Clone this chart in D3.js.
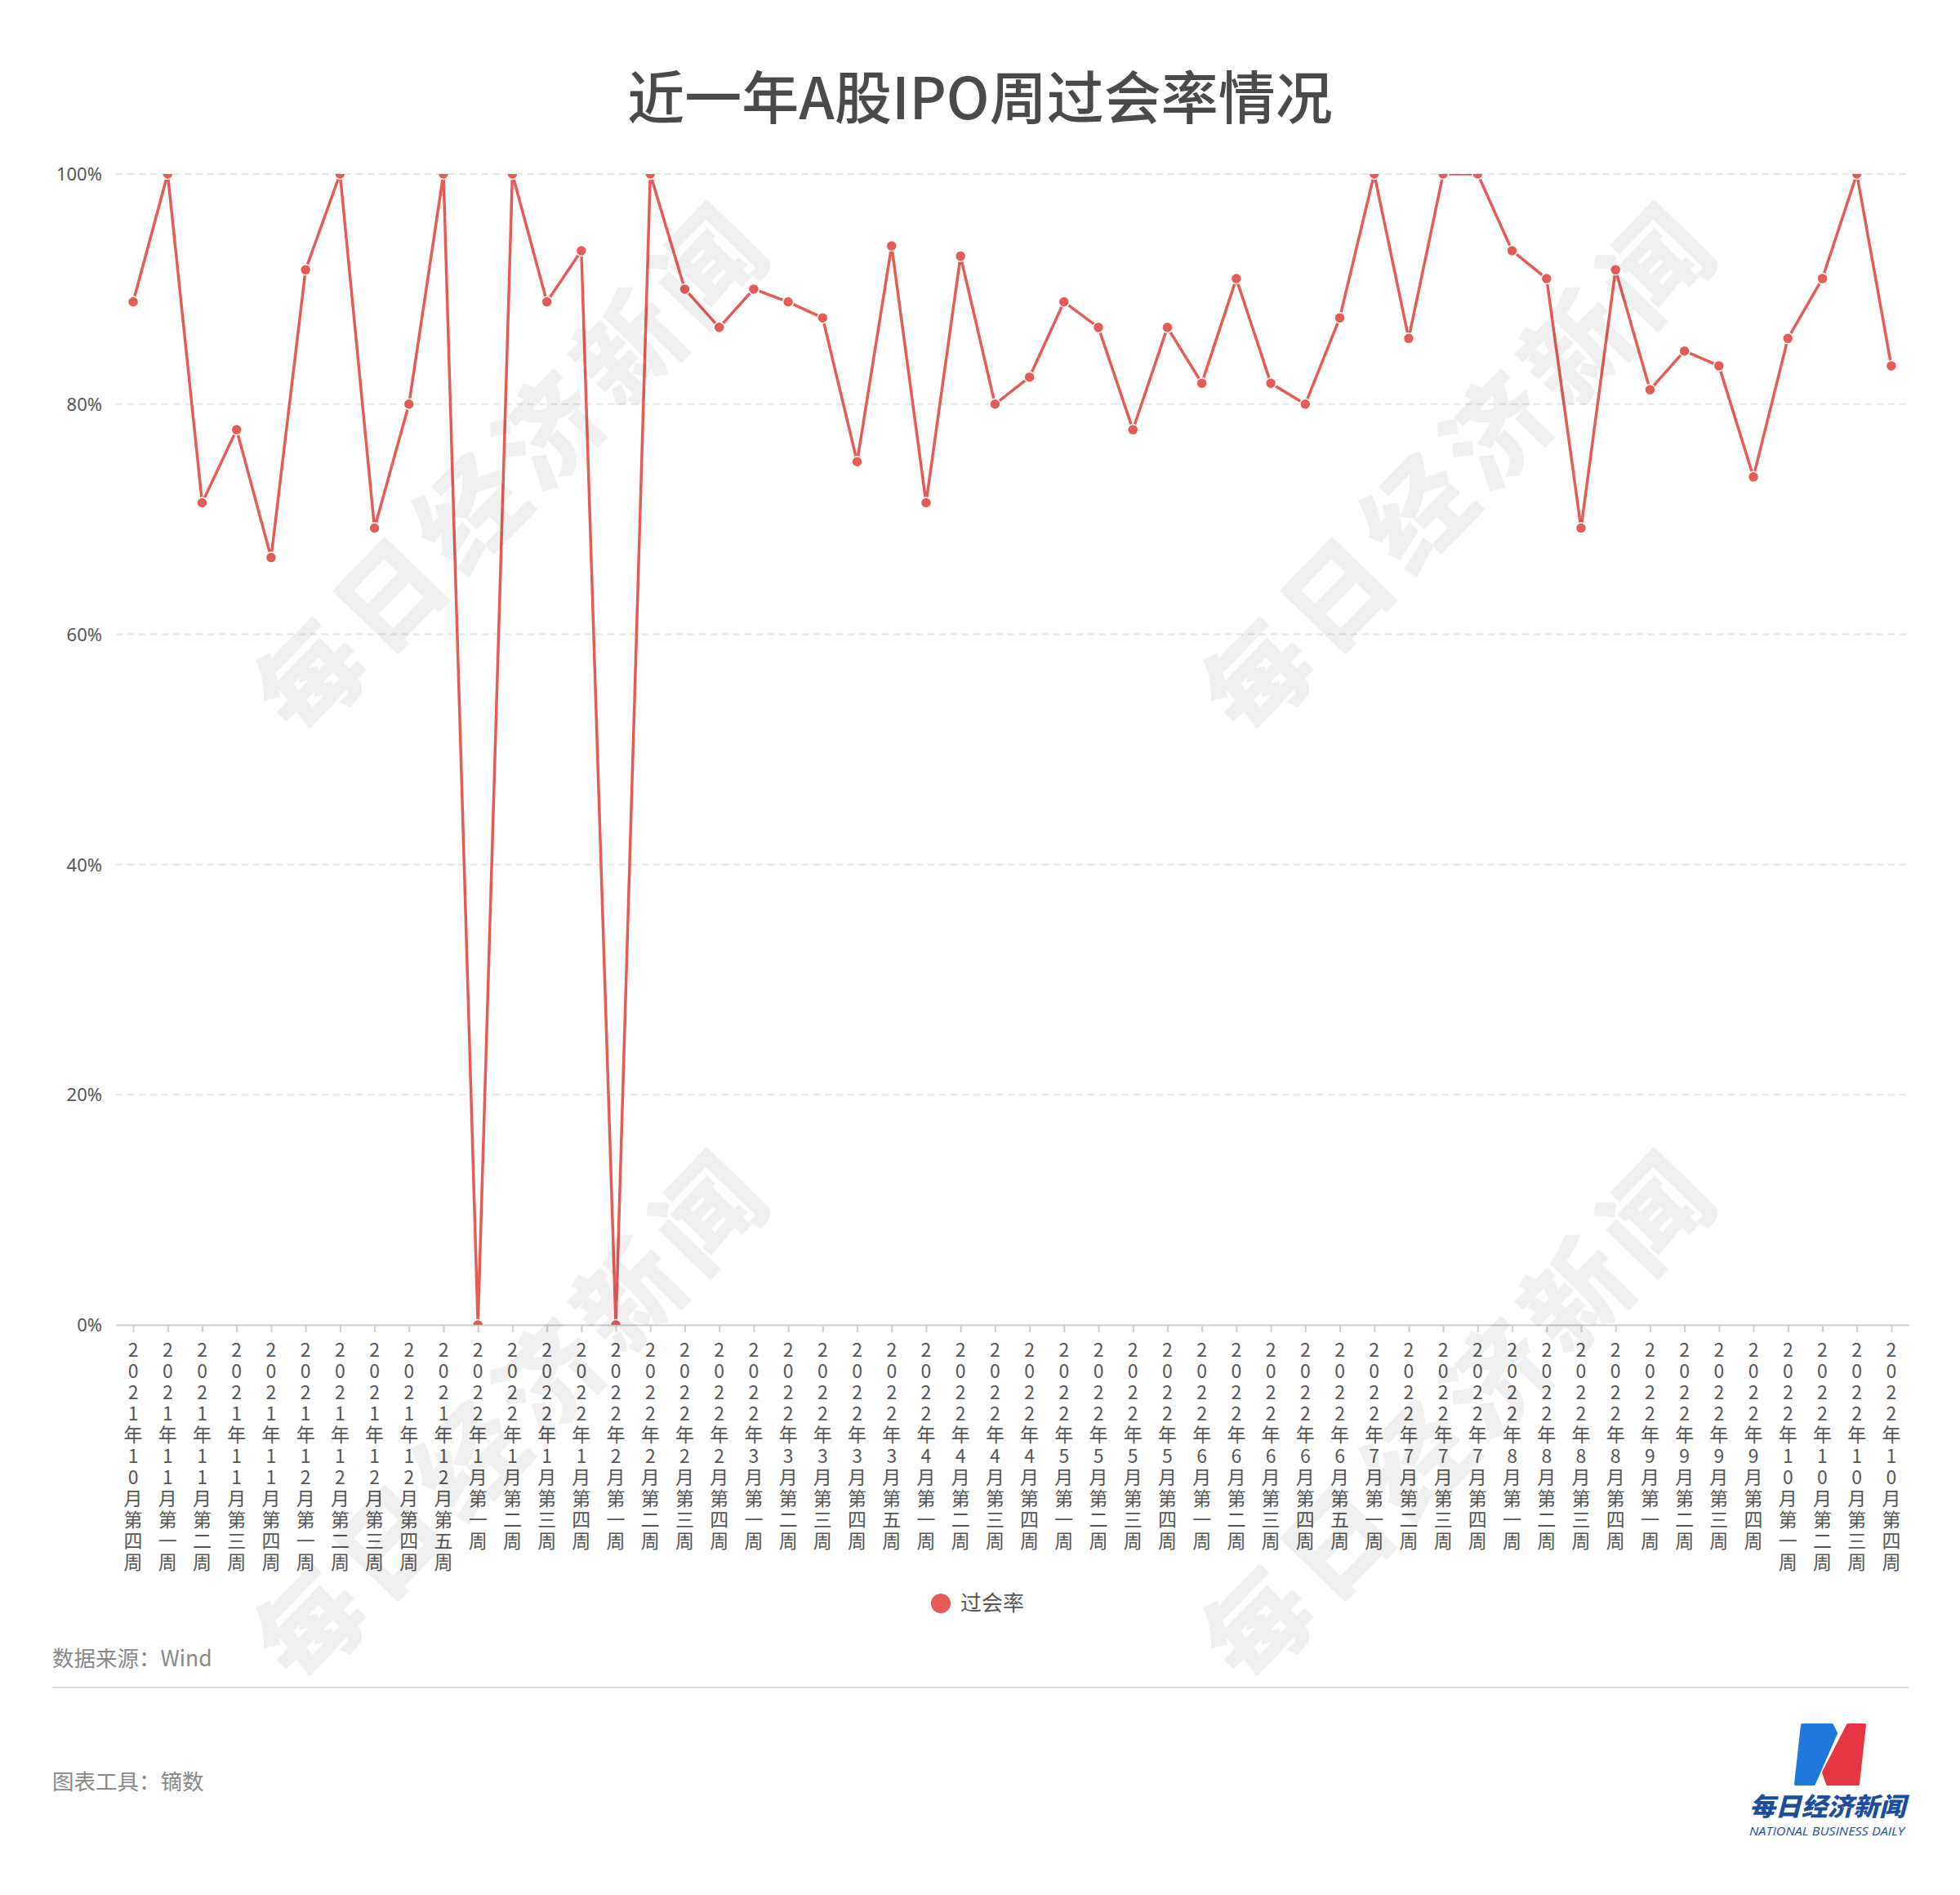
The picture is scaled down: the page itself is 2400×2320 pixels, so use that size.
<!DOCTYPE html>
<html>
<head>
<meta charset="utf-8">
<script src="https://cdn.jsdelivr.net/npm/d3@7"></script>
<style>
  html, body { margin: 0; padding: 0; background: #fff; }
  svg { display: block; font-family: "Noto Sans CJK SC", "Noto Sans", sans-serif; }
</style>
</head>
<body>
<svg id="chart" width="2400" height="2320"></svg>
<script>
const title = "近一年A股IPO周过会率情况";
const seriesName = "过会率";
const categories = [
  "2021年10月第四周",
  "2021年11月第一周", "2021年11月第二周", "2021年11月第三周", "2021年11月第四周",
  "2021年12月第一周", "2021年12月第二周", "2021年12月第三周", "2021年12月第四周", "2021年12月第五周",
  "2022年1月第一周", "2022年1月第二周", "2022年1月第三周", "2022年1月第四周",
  "2022年2月第一周", "2022年2月第二周", "2022年2月第三周", "2022年2月第四周",
  "2022年3月第一周", "2022年3月第二周", "2022年3月第三周", "2022年3月第四周", "2022年3月第五周",
  "2022年4月第一周", "2022年4月第二周", "2022年4月第三周", "2022年4月第四周",
  "2022年5月第一周", "2022年5月第二周", "2022年5月第三周", "2022年5月第四周",
  "2022年6月第一周", "2022年6月第二周", "2022年6月第三周", "2022年6月第四周", "2022年6月第五周",
  "2022年7月第一周", "2022年7月第二周", "2022年7月第三周", "2022年7月第四周",
  "2022年8月第一周", "2022年8月第二周", "2022年8月第三周", "2022年8月第四周",
  "2022年9月第一周", "2022年9月第二周", "2022年9月第三周", "2022年9月第四周",
  "2022年10月第一周", "2022年10月第二周", "2022年10月第三周", "2022年10月第四周"
];
const values = [
  88.89,
  100, 71.43, 77.78, 66.67,
  91.67, 100, 69.23, 80, 100,
  0, 100, 88.89, 93.33,
  0, 100, 90, 86.67,
  90, 88.89, 87.5, 75, 93.75,
  71.43, 92.86, 80, 82.35,
  88.89, 86.67, 77.78, 86.67,
  81.82, 90.91, 81.82, 80, 87.5,
  100, 85.71, 100, 100,
  93.33, 90.91, 69.23, 91.67,
  81.25, 84.62, 83.33, 73.68,
  85.71, 90.91, 100, 83.33
];
const yTicks = [0, 20, 40, 60, 80, 100];
const sourceText = "数据来源：Wind";
const toolText = "图表工具：镝数";
const watermarkText = "每日经济新闻";

const svg = d3.select("#chart");
const lineColor = "#e55c57";
const plotL = 142, plotR = 2337, plotT = 213, plotB = 1622;

const x = d3.scalePoint().domain(categories).range([plotL, plotR]).padding(0.5);
const y = d3.scaleLinear().domain([0, 100]).range([plotB, plotT]);

// Title
svg.append("text")
  .attr("x", 1200).attr("y", 146)
  .attr("text-anchor", "middle")
  .attr("font-size", 70).attr("font-weight", 500)
  .attr("fill", "#4a4a4a")
  .text(title);

// Grid + y labels
const yAxis = d3.axisLeft(y).tickValues(yTicks).tickFormat(d => d + "%").tickSize(0).tickPadding(0);
const gy = svg.append("g").attr("transform", `translate(125,0)`).call(yAxis);
gy.select(".domain").remove();
gy.selectAll("text").attr("font-size", 22).attr("fill", "#555").attr("font-family", "\"Noto Sans\", \"Noto Sans CJK SC\", sans-serif").attr("dy", "0.35em");

svg.append("g").selectAll("line")
  .data(yTicks.filter(d => d > 0))
  .join("line")
  .attr("x1", plotL).attr("x2", plotR)
  .attr("y1", d => y(d)).attr("y2", d => y(d))
  .attr("stroke", "#e6e6e6").attr("stroke-width", 2)
  .attr("stroke-dasharray", "8,6");

// X axis
const xAxis = d3.axisBottom(x).tickSize(9).tickSizeOuter(0).tickFormat("");
const gx = svg.append("g").attr("transform", `translate(0,${plotB})`).call(xAxis);
gx.select(".domain").attr("stroke", "#cccccc").attr("stroke-width", 2);
gx.selectAll(".tick line").attr("stroke", "#cccccc").attr("stroke-width", 2);

// Vertical x labels (one character per line)
const xl = svg.append("g").attr("font-size", 23).attr("fill", "#555").attr("text-anchor", "middle");
categories.forEach(c => {
  const t = xl.append("text").attr("x", x(c)).attr("y", 1661);
  Array.from(c).forEach((ch, i) => {
    t.append("tspan").attr("x", x(c)).attr("y", 1661 + i * 26).text(ch);
  });
});

// Clip
svg.append("defs").append("clipPath").attr("id", "plotclip")
  .append("rect").attr("x", plotL - 20).attr("y", plotT).attr("width", plotR - plotL + 40).attr("height", plotB - plotT);

const plot = svg.append("g").attr("clip-path", "url(#plotclip)");
const data = categories.map((c, i) => ({ c, v: values[i] }));
plot.append("path")
  .datum(data)
  .attr("fill", "none")
  .attr("stroke", lineColor)
  .attr("stroke-width", 3.5)
  .attr("stroke-linejoin", "round")
  .attr("d", d3.line().x(d => x(d.c)).y(d => y(d.v)));
plot.selectAll("circle")
  .data(data)
  .join("circle")
  .attr("cx", d => x(d.c)).attr("cy", d => y(d.v))
  .attr("r", 6.5)
  .attr("fill", lineColor)
  .attr("stroke", "#fff").attr("stroke-width", 1.5);

// Legend
svg.append("circle").attr("cx", 1152).attr("cy", 1963).attr("r", 12).attr("fill", lineColor);
svg.append("text").attr("x", 1176).attr("y", 1972).attr("font-size", 26).attr("fill", "#555").text(seriesName);

// Footer
svg.append("text").attr("x", 64).attr("y", 2040).attr("font-size", 26.5).attr("fill", "#888").text(sourceText);
svg.append("line").attr("x1", 64).attr("x2", 2337).attr("y1", 2066).attr("y2", 2066).attr("stroke", "#dddddd").attr("stroke-width", 2);
svg.append("text").attr("x", 64).attr("y", 2191).attr("font-size", 26.5).attr("fill", "#888").text(toolText);

// Logo
const logo = svg.append("g");
logo.append("path")
  .attr("d", "M2207,2112 L2243,2112 L2248,2122 L2221,2184 L2199,2184 Z")
  .attr("fill", "#1f78dd").attr("stroke", "#1f78dd").attr("stroke-width", 4).attr("stroke-linejoin", "round");
logo.append("path")
  .attr("d", "M2263,2112 L2283,2112 L2275,2184 L2238,2184 L2233,2170 Z")
  .attr("fill", "#e63641").attr("stroke", "#e63641").attr("stroke-width", 4).attr("stroke-linejoin", "round");
logo.append("text").attr("x", 2142).attr("y", 2223)
  .attr("font-size", 31).attr("font-weight", 900).attr("font-style", "italic")
  .attr("fill", "#1b4e9e").attr("textLength", 191).attr("lengthAdjust", "spacingAndGlyphs")
  .text(watermarkText);
logo.append("text").attr("x", 2142).attr("y", 2247)
  .attr("font-size", 15).attr("font-style", "italic").attr("font-family", "\"Open Sans\", \"Noto Sans\", sans-serif")
  .attr("fill", "#1b4e9e").attr("textLength", 190).attr("lengthAdjust", "spacingAndGlyphs")
  .text("NATIONAL BUSINESS DAILY");

// Watermarks
const wmPos = [[630, 575], [1790, 575], [630, 1735], [1790, 1735]];
const wm = svg.append("g").attr("pointer-events", "none");
wmPos.forEach(([cx, cy]) => {
  wm.append("text")
    .attr("transform", `translate(${cx},${cy}) rotate(-46)`)
    .attr("text-anchor", "middle").attr("dy", "0.35em")
    .attr("font-size", 128).attr("font-weight", 900)
    .attr("letter-spacing", 12)
    .attr("fill", "#000").attr("fill-opacity", 0.06)
    .text(watermarkText);
});
</script>
</body>
</html>
